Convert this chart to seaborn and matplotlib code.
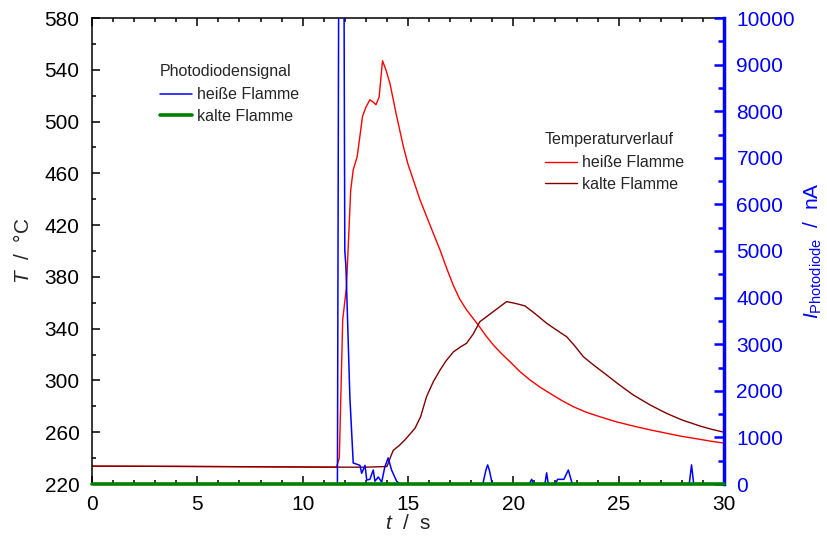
import matplotlib
matplotlib.use('Agg')
import matplotlib.pyplot as plt
from matplotlib.ticker import MultipleLocator
from matplotlib.lines import Line2D
import seaborn as sns

# ---- Daten ----
# Temperaturverlauf heiße Flamme
t_heiss = [0, 4, 8, 11.6, 11.74, 11.9, 12.08, 12.28, 12.4, 12.59, 12.84, 13.0, 13.19,
           13.35, 13.48, 13.63, 13.79, 13.95, 14.14, 14.45, 14.78, 15.0, 15.25, 15.57, 15.9,
           16.2, 16.52, 16.85, 17.15, 17.45, 17.78, 18.33, 18.7, 19.05, 19.45, 19.84, 20.3,
           20.79, 21.25, 21.74, 22.3, 22.85, 23.45, 24.1, 24.9, 25.69, 26.5, 27.27, 28.0,
           28.86, 29.4, 30.0]
T_heiss = [233.8, 233.6, 233.3, 233.0, 240, 346.7, 372.5, 447, 462.7, 473, 504, 511, 516.8,
           515, 513, 519, 547, 540, 529.7, 505, 480.7, 467, 455, 439.5, 426,
           413.7, 400.8, 386, 373.5, 363, 354.5, 342.9, 334.5, 327.4, 320.5, 314.5, 307,
           300.4, 295, 290, 284.5, 279.7, 275.5, 272, 268, 264.8, 261.8, 259.2, 256.8,
           254.5, 253, 251.6]

# Temperaturverlauf kalte Flamme
t_kalt = [0, 4, 8, 11.6, 13, 14.0, 14.15, 14.3, 14.6, 14.85, 15.33, 15.6, 15.88, 16.2, 16.52,
          16.8, 17.15, 17.5, 17.78, 18.1, 18.41, 18.73, 19.2, 19.68, 20.1, 20.55, 21.0, 21.58,
          22.0, 22.53, 22.9, 23.32, 23.8, 24.43, 25.0, 25.69, 26.5, 27.27, 28.0, 28.86, 29.4,
          30.0]
T_kalt = [233.8, 233.6, 233.3, 233.0, 233.0, 233.5, 240, 246, 250, 254, 263, 272, 287.5, 299, 308,
          315, 322, 326, 328.7, 336, 345.4, 349.3, 355, 360.9, 359.5, 357.6, 352, 344.2,
          339.5, 333.8, 327, 318.4, 312, 304.2, 297, 288.8, 281, 274.6, 269.5, 264.8, 262.3,
          260]

# Photodiodensignal heiße Flamme
t_pd_heiss = [0, 11.65, 11.72, 11.95, 12.0, 12.05, 12.1, 12.24, 12.4, 12.6, 12.72, 12.8, 12.96,
              13.04, 13.19, 13.35, 13.43, 13.59, 13.75, 13.9, 14.06, 14.22, 14.46, 14.62,
              18.55, 18.7, 18.78, 18.86, 19.0, 20.75, 20.87, 20.97, 21.5, 21.58, 21.66,
              22.0, 22.1, 22.4, 22.61, 22.8, 28.35, 28.46, 28.56, 30]
I_pd_heiss = [0, 0, 12500, 12500, 5000, 4700, 4000, 1870, 450, 420, 400, 230, 400,
              85, 100, 300, 60, 150, 40, 365, 560, 300, 60, 0,
              0, 300, 410, 300, 0, 0, 100, 0, 0, 240, 0,
              0, 100, 100, 300, 0, 0, 410, 0, 0]

# Photodiodensignal kalte Flamme
t_pd_kalt = [0, 30]
I_pd_kalt = [0, 0]

# ---- Schrift ----
sns.set_style('ticks')
plt.rcParams['font.family'] = ['Liberation Sans', 'DejaVu Sans']
plt.rcParams['mathtext.fontset'] = 'custom'
plt.rcParams['mathtext.rm'] = 'Liberation Sans'
plt.rcParams['mathtext.it'] = 'Liberation Sans:italic'

col_heiss = '#ff0000'
col_kalt = '#800000'
col_blau = '#0000ff'
col_gruen = '#008000'

fig = plt.figure(figsize=(8.27, 5.37), dpi=100)
ax = fig.add_axes([92/827, 1-484/537, (724-92)/827, (484-18)/537])
ax2 = ax.twinx()

# Temperaturen (linke Achse)
sns.lineplot(x=t_heiss, y=T_heiss, ax=ax, color=col_heiss, linewidth=1.0, estimator=None, sort=False)
sns.lineplot(x=t_kalt, y=T_kalt, ax=ax, color=col_kalt, linewidth=1.0, estimator=None, sort=False)

# Photodiode (rechte Achse)
sns.lineplot(x=t_pd_heiss, y=I_pd_heiss, ax=ax2, color=col_blau, linewidth=1.1, estimator=None, sort=False)
sns.lineplot(x=t_pd_kalt, y=I_pd_kalt, ax=ax2, color=col_gruen, linewidth=2.6, estimator=None,
             sort=False, clip_on=False, zorder=5)

ax.set_xlim(0, 30)
ax.set_ylim(220, 580)
ax2.set_ylim(0, 10000)

ax.xaxis.set_major_locator(MultipleLocator(5))
ax.xaxis.set_minor_locator(MultipleLocator(1))
ax.yaxis.set_major_locator(MultipleLocator(40, offset=20))
ax.yaxis.set_minor_locator(MultipleLocator(20))
ax2.yaxis.set_major_locator(MultipleLocator(1000))
ax2.yaxis.set_minor_locator(MultipleLocator(500))

ax.tick_params(which='both', direction='in', top=True, right=False, width=1.1,
               labelsize=15, colors='black')
ax.tick_params(which='major', length=6, pad=9)
ax.tick_params(which='minor', length=3)
ax.tick_params(axis='x', which='major', pad=8)

ax2.tick_params(which='both', direction='in', right=True, left=False, top=False, bottom=False,
                width=1.8, color=col_blau, labelcolor=col_blau, labelsize=15)
ax2.tick_params(which='major', length=7, pad=9)
ax2.tick_params(which='minor', length=4)

# Rahmen
for s in ['left', 'top', 'bottom']:
    ax.spines[s].set_linewidth(1.1)
    ax.spines[s].set_color('black')
    ax2.spines[s].set_visible(False)
ax.spines['right'].set_visible(False)
ax2.spines['right'].set_color(col_blau)
ax2.spines['right'].set_linewidth(2.5)

ax.set_xlabel('$t$  /  s', fontsize=15, labelpad=0)
ax.set_ylabel('$T$  /  °C', fontsize=15, labelpad=8)
ax2.set_ylabel('$I_{\\mathrm{Photodiode}}$  /  nA', fontsize=15, color=col_blau, labelpad=5)

# Legenden
for a in (ax, ax2):
    if a.get_legend() is not None:
        a.get_legend().remove()

h_pd = [Line2D([], [], color=col_blau, linewidth=1.1),
        Line2D([], [], color=col_gruen, linewidth=2.6)]
leg1 = ax2.legend(h_pd, ['heiße Flamme', 'kalte Flamme'], title='Photodiodensignal',
                  loc='upper left', bbox_to_anchor=(160/827, 1-64/537),
                  bbox_transform=fig.transFigure, frameon=False, fontsize=11.5,
                  title_fontsize=11.5, handlelength=2.0, handletextpad=0.3,
                  labelspacing=0.4, borderpad=0, borderaxespad=0, alignment='left')
leg1._legend_box.sep = 6
ax2.add_artist(leg1)

h_temp = [Line2D([], [], color=col_heiss, linewidth=1.0),
          Line2D([], [], color=col_kalt, linewidth=1.0)]
leg2 = ax2.legend(h_temp, ['heiße Flamme', 'kalte Flamme'], title='Temperaturverlauf',
                  loc='upper left', bbox_to_anchor=(545/827, 1-132/537),
                  bbox_transform=fig.transFigure, frameon=False, fontsize=11.5,
                  title_fontsize=11.5, handlelength=2.0, handletextpad=0.3,
                  labelspacing=0.4, borderpad=0, borderaxespad=0, alignment='left')
leg2._legend_box.sep = 6

fig.savefig('out.png', dpi=100)
